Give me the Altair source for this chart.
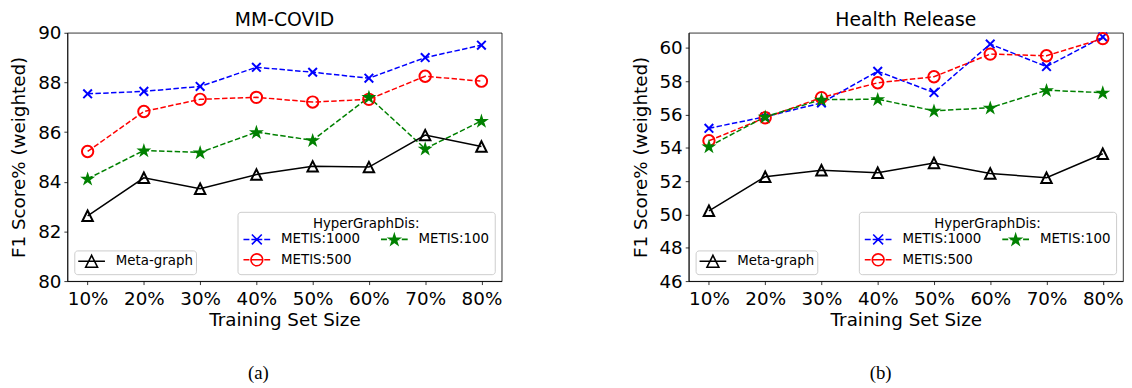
import math
import altair as alt
import pandas as pd

# ---------------- data ----------------
x_pct = [10, 20, 30, 40, 50, 60, 70, 80]

mm_metis1000 = [87.54, 87.64, 87.84, 88.61, 88.41, 88.17, 89.00, 89.50]
mm_metis500 = [85.22, 86.83, 87.32, 87.40, 87.21, 87.32, 88.25, 88.05]
mm_metis100 = [84.12, 85.26, 85.18, 86.00, 85.67, 87.41, 85.33, 86.45]
mm_meta = [82.63, 84.16, 83.72, 84.29, 84.62, 84.59, 85.88, 85.42]

hr_metis1000 = [55.17, 55.86, 56.69, 58.59, 57.31, 60.22, 58.87, 60.65]
hr_metis500 = [54.42, 55.80, 57.01, 57.90, 58.26, 59.62, 59.52, 60.55]
hr_metis100 = [54.08, 55.86, 56.89, 56.91, 56.22, 56.40, 57.45, 57.31]
hr_meta = [50.22, 52.26, 52.65, 52.50, 53.09, 52.46, 52.20, 53.64]

series_order = ["METIS:1000", "METIS:500", "METIS:100", "Meta-graph"]
hyper_series = ["METIS:1000", "METIS:500", "METIS:100"]

mm_yticks = [80, 82, 84, 86, 88, 90]
hr_yticks = [46, 48, 50, 52, 54, 56, 58, 60]

# ---------------- styles ----------------
COL = {"METIS:1000": "#0000ff", "METIS:500": "#ff0000", "METIS:100": "#008000", "Meta-graph": "#000000"}


def star(cx, cy, ro, ri):
    pts = []
    for k in range(10):
        a = math.radians(-90 + 36 * k)
        r = ro if k % 2 == 0 else ri
        pts.append((cx + r * math.cos(a), cy + r * math.sin(a)))
    return "M" + "L".join(f"{x:.3f},{y:.3f}" for x, y in pts) + "Z"


X_PATH = "M-1,-1L1,1M-1,1L1,-1"
TRI_PATH = "M0,-1L-1,1L1,1Z"
STAR_PATH = star(0, 0.1, 1.0, 0.382)

# point styling per series: shape, size, fill
PT = {
    "METIS:1000": (X_PATH, 76, "transparent"),
    "METIS:500": ("circle", 132, "transparent"),
    "METIS:100": (STAR_PATH, 88, "#008000"),
    "Meta-graph": (TRI_PATH, 112, "transparent"),
}

# legend symbols (unit = 7px, symbol runs from -1 to 2.857 => 27px)
cx = 0.929
DASH = "M-1,0L-0.143,0M0.143,0L1.714,0M2,0L2.857,0"
m = 0.714
LEG_X = DASH + f"M{cx-m:.3f},{-m:.3f}L{cx+m:.3f},{m:.3f}M{cx-m:.3f},{m:.3f}L{cx+m:.3f},{-m:.3f}"
r = 0.857
LEG_O = DASH + f"M{cx+r:.3f},0A{r},{r} 0 1,1 {cx-r:.3f},0A{r},{r} 0 1,1 {cx+r:.3f},0"
LEG_STAR = DASH + star(cx, 0.08, 0.8, 0.306)
LEG_TRI = f"M-1,0L2.857,0M{cx:.3f},{-r:.3f}L{cx-r:.3f},{r:.3f}L{cx+r:.3f},{r:.3f}Z"

FONT = "DejaVu Sans"


def panel(title, vals, ydom, yticks, caption, cap_x, cap_y, title_offset):
    rows = []
    for name, v in zip(series_order, vals):
        for p, y in zip(x_pct, v):
            rows.append({"pct": p, "value": y, "series": name})
    df = pd.DataFrame(rows)
    base = alt.Chart(df)

    x = alt.X("pct:Q", scale=alt.Scale(domain=[6.4, 83.6], nice=False, zero=False),
              axis=alt.Axis(values=x_pct, labelExpr="datum.value + '%'", title="Training Set Size"))
    y = alt.Y("value:Q", scale=alt.Scale(domain=ydom, nice=False, zero=False),
              axis=alt.Axis(values=yticks, title="F1 Score% (weighted)"))

    dashed = base.transform_filter(
        alt.FieldOneOfPredicate(field="series", oneOf=hyper_series)
    ).mark_line(strokeWidth=1.5, strokeDash=[5.5, 2.4]).encode(
        x=x, y=y,
        stroke=alt.Stroke("series:N", scale=alt.Scale(domain=hyper_series, range=[COL[s] for s in hyper_series]), legend=None),
    )
    solid = base.transform_filter(alt.datum.series == "Meta-graph").mark_line(
        strokeWidth=1.5, color="black").encode(x=x, y=y)

    point_layers = []
    for s in series_order:
        shp, sz, fl = PT[s]
        point_layers.append(
            base.transform_filter(alt.datum.series == s).mark_point(
                shape=shp, size=sz, fill=fl, stroke=COL[s], strokeWidth=2, opacity=1, filled=False
            ).encode(x=x, y=y)
        )

    leg_h = alt.Legend(title="HyperGraphDis:", orient="bottom-right", columns=2, titleAnchor="middle",
                       symbolSize=196, symbolStrokeWidth=1.6, labelOffset=23, columnPadding=17, rowPadding=2,
                       titlePadding=1)
    legend_hyper = base.transform_filter("false").mark_point(opacity=1, strokeWidth=1.6).encode(
        shape=alt.Shape("series:N", scale=alt.Scale(domain=hyper_series, range=[LEG_X, LEG_O, LEG_STAR]), legend=leg_h),
        stroke=alt.Stroke("series:N", scale=alt.Scale(domain=hyper_series, range=[COL[s] for s in hyper_series]), legend=leg_h),
        fill=alt.Fill("series:N", scale=alt.Scale(domain=hyper_series, range=["transparent", "transparent", "#008000"]), legend=leg_h),
    )
    leg_m = alt.Legend(title=None, orient="bottom-left", symbolSize=196, symbolStrokeWidth=1.6, labelOffset=23, padding=3)
    legend_meta = base.transform_filter("false").mark_point(opacity=1, strokeWidth=1.6).encode(
        shape=alt.Shape("series:N", scale=alt.Scale(domain=["Meta-graph"], range=[LEG_TRI]), legend=leg_m),
        stroke=alt.Stroke("series:N", scale=alt.Scale(domain=["Meta-graph"], range=["#000000"]), legend=leg_m),
        fill=alt.Fill("series:N", scale=alt.Scale(domain=["Meta-graph"], range=["transparent"]), legend=leg_m),
    )

    cap = alt.Chart(pd.DataFrame({"cap": [caption]})).mark_text(
        font="Liberation Serif", fontSize=19, align="center", baseline="middle", color="black"
    ).encode(text="cap:N", x=alt.value(cap_x), y=alt.value(cap_y))

    return alt.layer(dashed, solid, *point_layers, legend_hyper, legend_meta, cap).resolve_scale(
        stroke="independent", shape="independent", fill="independent"
    ).properties(width=439, height=251, title=alt.Title(title, offset=title_offset))


left = panel("MM-COVID", [mm_metis1000, mm_metis500, mm_metis100, mm_meta], [80, 90], mm_yticks,
             "(a)", 193, 344, -6)
right = panel("Health Release", [hr_metis1000, hr_metis500, hr_metis100, hr_meta], [46, 60.9], hr_yticks,
              "(b)", 194, 344, -1)

chart = alt.hconcat(left, right, spacing=129).properties(
    padding={"left": 1, "top": 0, "right": 0, "bottom": 0}
).configure_view(stroke="black", strokeWidth=0.8).configure_axis(
    labelFont=FONT, labelFontSize=18.5, titleFont=FONT, titleFontSize=18.5, titleFontWeight="normal",
    labelColor="black", titleColor="black", domainColor="black", tickColor="black",
    tickSize=3.5, domainWidth=0.8, tickWidth=0.8, grid=False,
    labelFlush=False, labelOverlap=False,
).configure_axisX(labelPadding=5, titlePadding=3).configure_axisY(labelPadding=3, titlePadding=9).configure_title(
    font=FONT, fontSize=19, fontWeight="normal", color="black", anchor="middle"
).configure_legend(
    labelFont=FONT, labelFontSize=13.5, titleFont=FONT, titleFontSize=13.5, titleFontWeight="normal",
    labelColor="black", titleColor="black", padding=5, cornerRadius=3, strokeColor="#cccccc",
    fillColor="white", offset=7,
)

chart.save("out.html", embed_options={"renderer": "svg", "actions": False})
